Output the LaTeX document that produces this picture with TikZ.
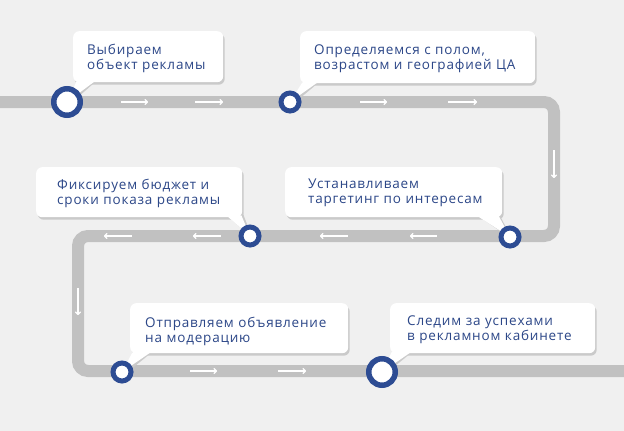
\documentclass[tikz,border=0pt]{standalone}
\usepackage{fontspec}
\setmainfont[LetterSpace=6]{Open Sans}
\usetikzlibrary{shadows,arrows.meta}
\definecolor{bg}{HTML}{F0F0F0}
\definecolor{track}{HTML}{C1C1C1}
\definecolor{ring}{HTML}{2D4C93}
\definecolor{txt}{HTML}{2C4788}
\definecolor{shd}{HTML}{CACACA}
\begin{document}
\begin{tikzpicture}[x=1pt,y=-1pt,
  trackline/.style={line width=12pt, draw=track, rounded corners=10pt},
  flow/.style={draw=white, line width=1.3pt, -{To[length=3.5pt,width=6pt]}},
  callout/.style={fill=white, rounded corners=6pt, inner sep=0pt, anchor=north west,
    general shadow={fill=shd, shadow xshift=1.5pt, shadow yshift=-2.5pt}},
  label/.style={text=txt, anchor=base west, inner sep=0pt, text width=240pt, align=left,
    font=\fontsize{13.5}{15}\selectfont},
  bigring/.style={circle, draw=ring, fill=white, line width=5.5pt, minimum size=26.5pt, inner sep=0pt},
  smallring/.style={circle, draw=ring, fill=white, line width=5pt, minimum size=18pt, inner sep=0pt},
  tailshadow/.style={fill=shd},
  tail/.style={fill=white}
]
\fill[bg] (0,0) rectangle (624,431);
\useasboundingbox (0,0) rectangle (624,431);

% track
\draw[trackline] (0,102) -- (554,102) -- (554,236) -- (78,236) -- (78,371) -- (624,371);

% flow arrows
\draw[flow] (121,102) -- (148,102);
\draw[flow] (195,102) -- (223,102);
\draw[flow] (360,102) -- (387,102);
\draw[flow] (448,102) -- (477,102);
\draw[flow] (554,150) -- (554,178);
\draw[flow] (437,236) -- (410,236);
\draw[flow] (348,236) -- (320,236);
\draw[flow] (221,236) -- (193,236);
\draw[flow] (132,236) -- (104,236);
\draw[flow] (78,288) -- (78,315);
\draw[flow] (190,371) -- (217,371);
\draw[flow] (278,371) -- (306,371);

% ring positions
\coordinate (p1) at (67,102);
\coordinate (p2) at (290,102);
\coordinate (p3) at (510,237);
\coordinate (p4) at (250,236);
\coordinate (p5) at (122,372);
\coordinate (p6) at (382,372);

% tail shadows
\fill[tailshadow] (78.5,80) -- (97.5,80) -- (69.5,104.5) -- cycle;
\fill[tailshadow] (303.5,81) -- (320.5,81) -- (292.5,104.5) -- cycle;
\fill[tailshadow] (476.5,215) -- (499.5,215) -- (512.5,239.5) -- cycle;
\fill[tailshadow] (226.5,215) -- (243.5,215) -- (252.5,238.5) -- cycle;
\fill[tailshadow] (134.5,351) -- (153.5,351) -- (124.5,374.5) -- cycle;
\fill[tailshadow] (393.5,351) -- (413.5,351) -- (384.5,374.5) -- cycle;

% boxes
\node[callout, minimum width=150pt, minimum height=51pt] (b1) at (73,31) {};
\node[callout, minimum width=235pt, minimum height=52pt] (b2) at (300,31) {};
\node[callout, minimum width=217pt, minimum height=50pt] (b3) at (285,167) {};
\node[callout, minimum width=206pt, minimum height=50pt] (b4) at (36,167) {};
\node[callout, minimum width=218pt, minimum height=50pt] (b5) at (130,303) {};
\node[callout, minimum width=205pt, minimum height=50pt] (b6) at (390,303) {};

% tails
\fill[tail] ([shift={(4,-2)}]b1.south west) -- ([shift={(23,-2)}]b1.south west) -- (p1) -- cycle;
\fill[tail] ([shift={(3,-2)}]b2.south west) -- ([shift={(19,-2)}]b2.south west) -- (p2) -- cycle;
\fill[tail] ([shift={(-26,-2)}]b3.south east) -- ([shift={(-4,-2)}]b3.south east) -- (p3) -- cycle;
\fill[tail] ([shift={(-16,-2)}]b4.south east) -- ([shift={(-1,-2)}]b4.south east) -- (p4) -- cycle;
\fill[tail] ([shift={(3,-2)}]b5.south west) -- ([shift={(22,-2)}]b5.south west) -- (p5) -- cycle;
\fill[tail] ([shift={(2,-2)}]b6.south west) -- ([shift={(22,-2)}]b6.south west) -- (p6) -- cycle;

% rings
\node[bigring] (c1) at (p1) {};
\node[smallring] (c2) at (p2) {};
\node[smallring] (c3) at (p3) {};
\node[smallring] (c4) at (p4) {};
\node[smallring] (c5) at (p5) {};
\node[bigring] (c6) at (p6) {};

% texts
\node[label] (t1) at (87,54) {Выбираем\\объект рекламы};
\node[label] (t2) at (314,54) {Определяемся с полом,\\возрастом и географией ЦА};
\node[label] (t3) at (308,188) {Устанавливаем\\таргетинг по интересам};
\node[label] (t4) at (57,189) {Фиксируем бюджет и\\сроки показа рекламы};
\node[label] (t5) at (145,327) {Отправляем объявление\\на модерацию};
\node[label] (t6) at (407,325) {Следим за успехами\\в рекламном кабинете};
\end{tikzpicture}
\end{document}
